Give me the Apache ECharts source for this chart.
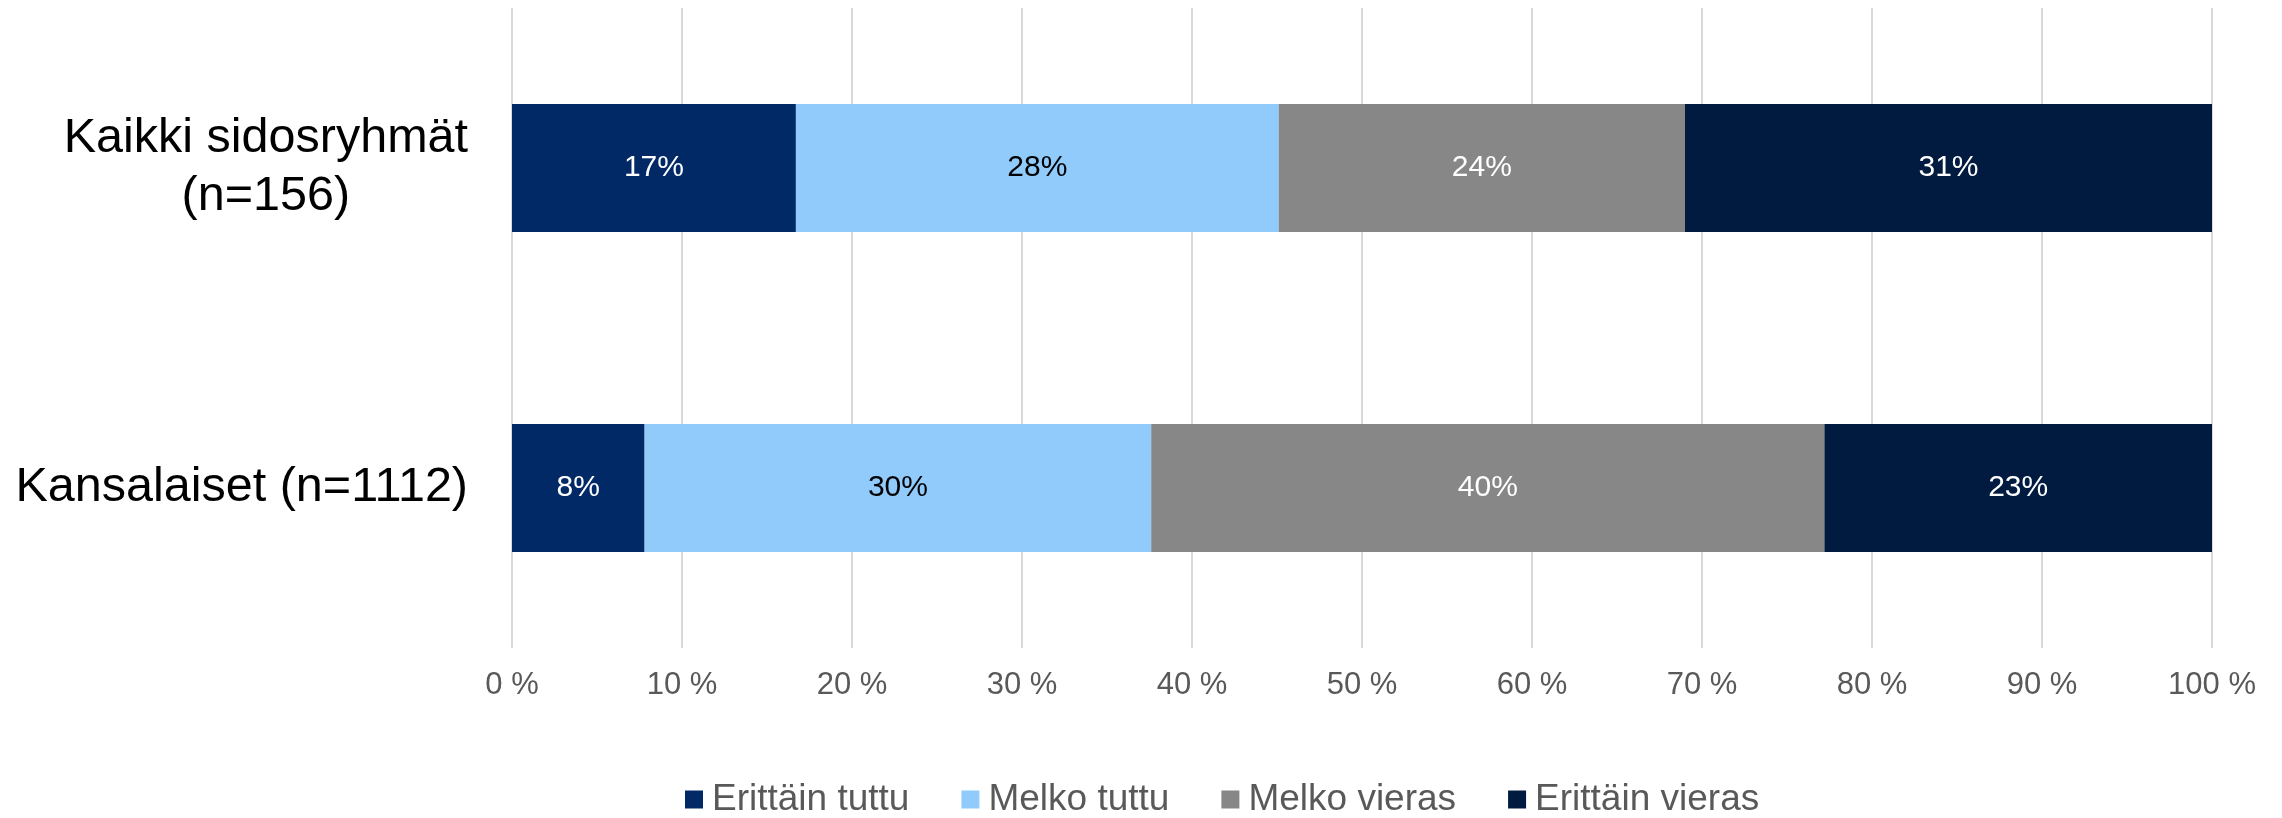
<!DOCTYPE html>
<html>
<head>
<meta charset="utf-8">
<script src="https://cdn.jsdelivr.net/npm/echarts@6/dist/echarts.min.js"></script>
<style>
  html, body { margin: 0; padding: 0; background: #fff; }
  #chart { width: 2282px; height: 818px; }
</style>
</head>
<body>
<div id="chart"></div>
<script>
const groups = ['Kaikki sidosryhmät\n(n=156)', 'Kansalaiset (n=1112)'];
const seriesNames = ['Erittäin tuttu', 'Melko tuttu', 'Melko vieras', 'Erittäin vieras'];
const erittainTuttu = [16.7, 7.8];
const melkoTuttu = [28.4, 29.8];
const melkoVieras = [23.9, 39.6];
const erittainVieras = [31.0, 22.8];
const xTicks = [0, 10, 20, 30, 40, 50, 60, 70, 80, 90, 100];

const colors = ['#002966', '#90CBFC', '#878787', '#001A40'];
const labelColors = ['#ffffff', '#000000', '#ffffff', '#ffffff'];
const font = "'Liberation Sans', Arial, sans-serif";

const chart = echarts.init(document.getElementById('chart'), null, { renderer: 'canvas' });

function makeSeries(name, data, idx) {
  return {
    name: name,
    type: 'bar',
    stack: 'total',
    barWidth: '40%',
    data: data,
    itemStyle: { color: colors[idx] },
    label: {
      show: true,
      position: 'inside',
      color: labelColors[idx],
      fontFamily: font,
      fontSize: 30,
      // näytetään pyöristetty prosentti
      formatter: (p) => Math.round(p.value) + '%',
    },
    emphasis: { disabled: true },
  };
}

chart.setOption({
  animation: false,
  textStyle: { fontFamily: font },
  grid: { left: 512, right: 70, top: 8, bottom: 170, containLabel: false },
  legend: {
    data: seriesNames,
    left: 680,
    top: 776,
    icon: 'rect',
    itemWidth: 18,
    itemHeight: 18,
    itemGap: 52,
    textStyle: { color: '#595959', fontSize: 37, fontFamily: font, padding: [0, 0, 0, 4] },
  },
  xAxis: {
    type: 'value',
    min: xTicks[0],
    max: xTicks[xTicks.length - 1],
    interval: xTicks[1] - xTicks[0],
    axisLine: { show: false },
    axisTick: { show: false },
    axisLabel: {
      color: '#595959',
      fontSize: 31,
      fontFamily: font,
      margin: 22,
      formatter: '{value} %',
    },
    splitLine: { show: true, lineStyle: { color: '#d9d9d9', width: 2 } },
  },
  yAxis: {
    type: 'category',
    inverse: true,
    data: groups,
    axisLine: { show: false },
    axisTick: { show: false },
    axisLabel: {
      margin: 44,
      color: '#000',
      fontSize: 48.5,
      fontFamily: font,
      lineHeight: 58,
      formatter: (value) => value.split('\n').map((s) => '{c|' + s + '}').join('\n'),
      rich: {
        c: { align: 'center', fontSize: 48.5, lineHeight: 58, color: '#000', fontFamily: font },
      },
    },
  },
  series: [
    makeSeries(seriesNames[0], erittainTuttu, 0),
    makeSeries(seriesNames[1], melkoTuttu, 1),
    makeSeries(seriesNames[2], melkoVieras, 2),
    makeSeries(seriesNames[3], erittainVieras, 3),
  ],
});
</script>
</body>
</html>
